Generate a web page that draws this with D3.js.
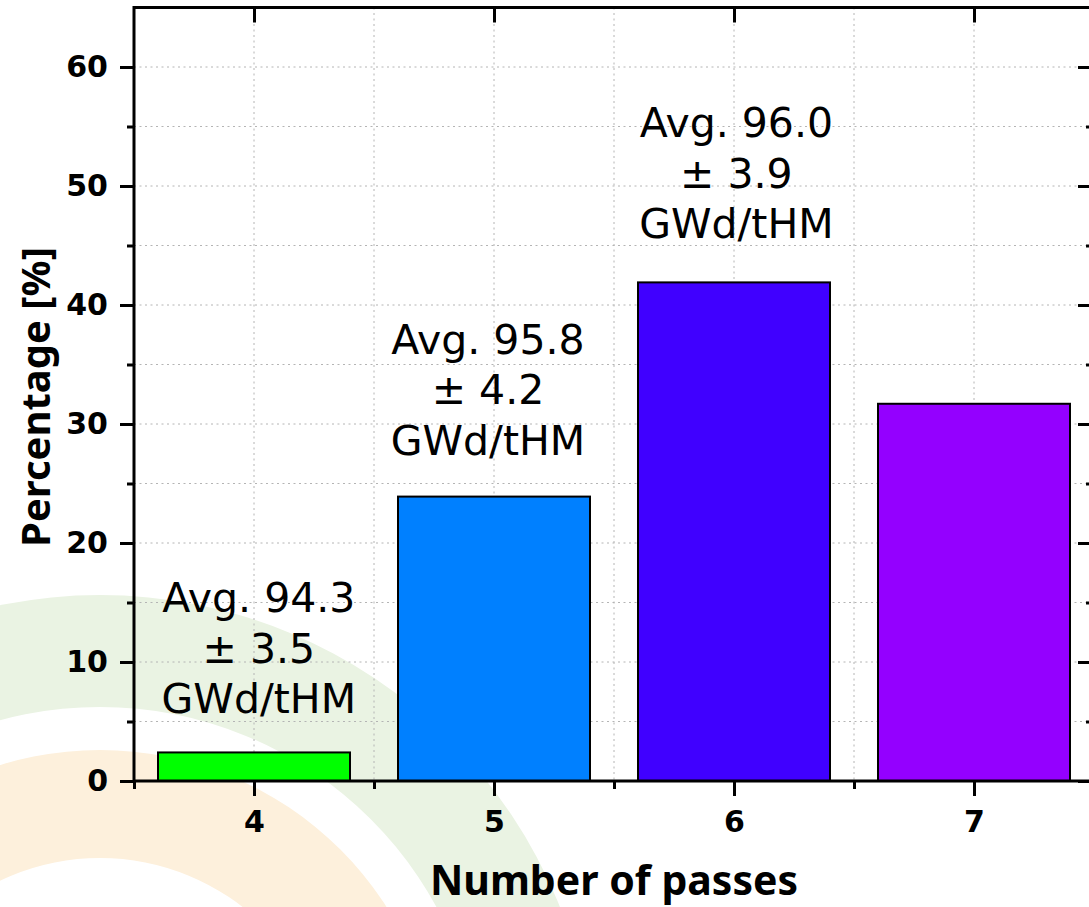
<!DOCTYPE html>
<html>
<head>
<meta charset="utf-8">
<script src="https://cdn.jsdelivr.net/npm/d3@7"></script>
<style>
  body { margin: 0; background: #fff; }
  svg { display: block; }
</style>
</head>
<body>
<svg id="chart"></svg>
<script>
// dados do gráfico
const passes = [4, 5, 6, 7];
const percentages = [2.4, 23.9, 41.9, 31.7];
const barColors = ['#00ff00', '#0080ff', '#4000ff', '#9400ff'];

// anotações (médias de queima)
const notePasses = [4.02, 4.975, 6.01];
const noteBaseY = [5.7, 27.4, 45.6];   // linha de base da última linha, em %
const noteLines = [
    ['Avg. 94.3', '± 3.5', 'GWd/tHM'],
    ['Avg. 95.8', '± 4.2', 'GWd/tHM'],
    ['Avg. 96.0', '± 3.9', 'GWd/tHM']
];

const yMajor = [0, 10, 20, 30, 40, 50, 60];
const yMinor = [5, 15, 25, 35, 45, 55];
const xMajor = [4, 5, 6, 7];
const xMinor = [3.5, 4.5, 5.5, 6.5];

const W = 1089, H = 907;
const plotLeft = 134, plotRight = 1094, plotTop = 7.5, plotBottom = 781;

const svg = d3.select('#chart').attr('width', W).attr('height', H);

const x = d3.scaleLinear().domain([3.5, 7.5]).range([plotLeft, plotRight]);
const y = d3.scaleLinear().domain([0, 65]).range([plotBottom, plotTop]);

// Arcos de fundo (marca d'água)
const bg = svg.append('g').attr('transform', 'translate(100,1090)');
const arc = d3.arc().startAngle(-Math.PI / 2).endAngle(Math.PI / 2);
bg.append('path').attr('fill', '#eaf3e3').attr('d', arc({innerRadius: 383, outerRadius: 495}));
bg.append('path').attr('fill', '#fdf0dc').attr('d', arc({innerRadius: 232, outerRadius: 340}));

// Grade pontilhada
const grid = svg.append('g')
    .attr('stroke', '#b4b4b4')
    .attr('stroke-width', 1)
    .attr('stroke-dasharray', '2,3.5');
grid.selectAll('line.h')
    .data(d3.range(5, 65, 5))
    .enter().append('line')
    .attr('x1', plotLeft).attr('x2', plotRight)
    .attr('y1', d => y(d)).attr('y2', d => y(d));
grid.selectAll('line.v')
    .data(d3.range(4, 7.01, 0.5))
    .enter().append('line')
    .attr('x1', d => x(d)).attr('x2', d => x(d))
    .attr('y1', plotTop).attr('y2', plotBottom);

// Barras
svg.selectAll('rect.bar')
    .data(passes)
    .enter().append('rect')
    .attr('class', 'bar')
    .attr('x', d => x(d - 0.4))
    .attr('width', x(4.8) - x(4))
    .attr('y', (d, i) => y(percentages[i]))
    .attr('height', (d, i) => y(0) - y(percentages[i]))
    .attr('fill', (d, i) => barColors[i])
    .attr('stroke', '#000')
    .attr('stroke-width', 2);

// Anotações
const lineGap = 50.5;
noteLines.forEach((lines, i) => {
    const t = svg.append('text')
        .attr('text-anchor', 'middle')
        .attr('font-family', 'DejaVu Sans')
        .attr('font-size', 41)
        .attr('fill', '#000');
    lines.forEach((s, k) => {
        t.append('tspan')
            .attr('x', x(notePasses[i]))
            .attr('y', y(noteBaseY[i]) - (lines.length - 1 - k) * lineGap)
            .text(s);
    });
});

// Eixos
function styleAxis(g) {
    g.select('.domain').remove();
    g.selectAll('line').attr('stroke', '#000').attr('stroke-width', 3);
    g.selectAll('text')
        .attr('font-family', 'DejaVu Sans')
        .attr('font-weight', 'bold')
        .attr('font-size', 30)
        .attr('fill', '#000');
}

svg.append('g').attr('transform', `translate(${plotLeft},0)`)
    .call(d3.axisLeft(y).tickValues(yMajor).tickSize(14).tickPadding(12).tickFormat(d3.format('d')))
    .call(styleAxis);
svg.append('g').attr('transform', `translate(${plotLeft},0)`)
    .call(d3.axisLeft(y).tickValues(yMinor).tickSize(7).tickFormat(''))
    .call(styleAxis);

svg.append('g').attr('transform', `translate(0,${plotBottom})`)
    .call(d3.axisBottom(x).tickValues(xMajor).tickSize(15).tickPadding(15).tickFormat(d3.format('d')))
    .call(styleAxis);
svg.append('g').attr('transform', `translate(0,${plotBottom})`)
    .call(d3.axisBottom(x).tickValues(xMinor).tickSize(8).tickFormat(''))
    .call(styleAxis);

// espelhos (topo e direita, ticks para dentro)
svg.append('g').attr('transform', `translate(0,${plotTop})`)
    .call(d3.axisBottom(x).tickValues(xMajor).tickSize(15).tickFormat(''))
    .call(styleAxis);
svg.append('g').attr('transform', `translate(${plotRight},0)`)
    .call(d3.axisLeft(y).tickValues(yMajor).tickSize(16).tickFormat(''))
    .call(styleAxis);
svg.append('g').attr('transform', `translate(${plotRight},0)`)
    .call(d3.axisLeft(y).tickValues(yMinor).tickSize(8).tickFormat(''))
    .call(styleAxis);

// Moldura
svg.append('rect')
    .attr('x', plotLeft).attr('y', plotTop)
    .attr('width', plotRight - plotLeft).attr('height', plotBottom - plotTop)
    .attr('fill', 'none')
    .attr('stroke', '#000')
    .attr('stroke-width', 3);

// Títulos dos eixos
svg.append('text')
    .attr('x', (plotLeft + plotRight) / 2)
    .attr('y', 895)
    .attr('text-anchor', 'middle')
    .attr('font-family', 'Noto Sans')
    .attr('font-weight', 'bold')
    .attr('font-size', 41)
    .text('Number of passes');

svg.append('text')
    .attr('transform', 'translate(50,397) rotate(-90)')
    .attr('text-anchor', 'middle')
    .attr('font-family', 'Noto Sans')
    .attr('font-weight', 'bold')
    .attr('font-size', 40)
    .text('Percentage [%]');
</script>
</body>
</html>
